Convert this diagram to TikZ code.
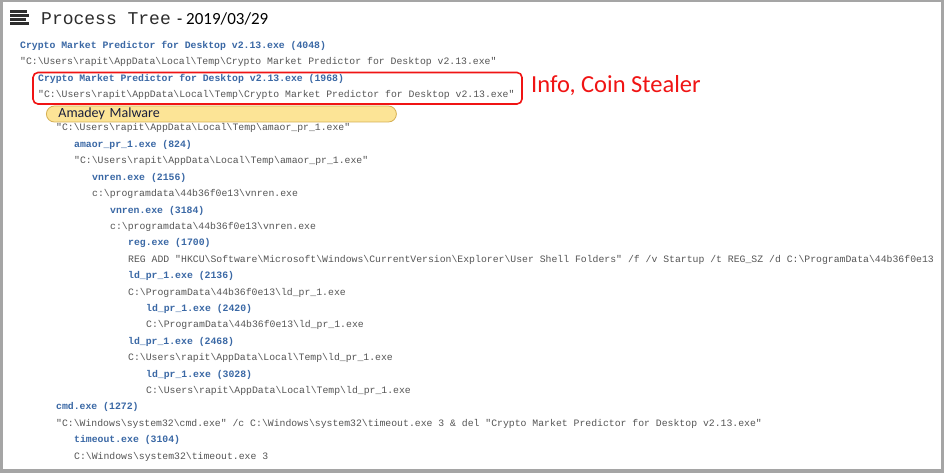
\documentclass[tikz,border=0pt]{standalone}
\usepackage{fontspec}
\setmainfont{Carlito}
\newfontfamily\monofnt{Liberation Mono}
\usepackage{tikz}
\usetikzlibrary{calc}

\definecolor{procblue}{RGB}{58,104,165}
\definecolor{cmdgray}{RGB}{85,85,85}
\definecolor{framegray}{RGB}{165,165,165}
\definecolor{icondark}{RGB}{45,45,45}
\definecolor{tagfill}{RGB}{252,228,150}
\definecolor{tagline}{RGB}{214,176,84}
\definecolor{alertred}{RGB}{240,20,20}

\newcommand{\bsl}{\textbackslash}

\begin{document}
\begin{tikzpicture}[x=1pt,y=-1pt,
		proc/.style={anchor=west,inner sep=0pt,text height=7pt,text depth=2pt,
			text=procblue,font=\monofnt\bfseries\fontsize{9.8}{11}\selectfont},
		cmdline/.style={anchor=west,inner sep=0pt,text height=7pt,text depth=2pt,
			text=cmdgray,font=\monofnt\fontsize{9.8}{11}\selectfont},
		tagbox/.style={draw=tagline,fill=tagfill,line width=0.8pt,rounded corners=8pt,
			anchor=west,minimum width=350pt,minimum height=16pt,inner xsep=12pt,inner ysep=0pt,
			text width=326pt,align=left,font=\fontsize{14}{16}\selectfont,text={rgb,255:red,25;green,30;blue,60}},
		markbox/.style={draw=alertred,line width=1.6pt,rounded corners=5pt}]
	
	% Frame
	\useasboundingbox (0,0) rectangle (944,473);
	\fill[framegray] (0,0) rectangle (944,473);
	\fill[white] (2.5,2.5) rectangle (940.5,469);
	
	% Header icon and title
	\foreach \y/\len in {10.3/16.5, 14.2/19, 18.1/16, 22/19}{
		\fill[icondark] (10,\y) rectangle ++(\len,2.9);
	}
	\node[anchor=west,inner sep=0pt,text=icondark,font=\monofnt\fontsize{18}{20}\selectfont] (title) at (41,19) {Process Tree};
	\node[anchor=west,inner sep=0pt,font=\fontsize{17}{19}\selectfont] (date) at (177,18.5) {- 2019/03/29};
	
	% Dropper
	\node[proc] (p4048) at (20,46) {Crypto Market Predictor for Desktop v2.13.exe (4048)};
	\node[cmdline] (c4048) at (20,62.4) {"C:\bsl Users\bsl rapit\bsl AppData\bsl Local\bsl Temp\bsl Crypto Market Predictor for Desktop v2.13.exe"};
	\node[proc] (p1968) at (38,78.8) {Crypto Market Predictor for Desktop v2.13.exe (1968)};
	\node[cmdline] (c1968) at (38,95.2) {"C:\bsl Users\bsl rapit\bsl AppData\bsl Local\bsl Temp\bsl Crypto Market Predictor for Desktop v2.13.exe"};
	
	% Highlight of the stealer
	\draw[markbox] (33,72.5) rectangle (522,104);
	\node[anchor=west,inner sep=0pt,text=alertred,font=\fontsize{24.5}{26}\selectfont] (stealer) at (531,86) {Info, Coin Stealer};
	
	% Amadey branch
	\node[tagbox] (amadey) at (46,114) {Amadey Malware};
	\node[cmdline] (c0amaor) at (56,128.5) {"C:\bsl Users\bsl rapit\bsl AppData\bsl Local\bsl Temp\bsl amaor\_pr\_1.exe"};
	\node[proc] (p824) at (74,145) {amaor\_pr\_1.exe (824)};
	\node[cmdline] (c824) at (74,161.4) {"C:\bsl Users\bsl rapit\bsl AppData\bsl Local\bsl Temp\bsl amaor\_pr\_1.exe"};
	\node[proc] (p2156) at (92,177.8) {vnren.exe (2156)};
	\node[cmdline] (c2156) at (92,194.2) {c:\bsl programdata\bsl 44b36f0e13\bsl vnren.exe};
	\node[proc] (p3184) at (110,210.6) {vnren.exe (3184)};
	\node[cmdline] (c3184) at (110,227) {c:\bsl programdata\bsl 44b36f0e13\bsl vnren.exe};
	\node[proc] (p1700) at (128,243.4) {reg.exe (1700)};
	\node[cmdline] (c1700) at (128,259.8) {REG ADD "HKCU\bsl Software\bsl Microsoft\bsl Windows\bsl CurrentVersion\bsl Explorer\bsl User Shell Folders" /f /v Startup /t REG\_SZ /d C:\bsl ProgramData\bsl 44b36f0e13};
	\node[proc] (p2136) at (128,276.2) {ld\_pr\_1.exe (2136)};
	\node[cmdline] (c2136) at (128,292.6) {C:\bsl ProgramData\bsl 44b36f0e13\bsl ld\_pr\_1.exe};
	\node[proc] (p2420) at (146,309) {ld\_pr\_1.exe (2420)};
	\node[cmdline] (c2420) at (146,325.4) {C:\bsl ProgramData\bsl 44b36f0e13\bsl ld\_pr\_1.exe};
	\node[proc] (p2468) at (128,341.8) {ld\_pr\_1.exe (2468)};
	\node[cmdline] (c2468) at (128,358.2) {C:\bsl Users\bsl rapit\bsl AppData\bsl Local\bsl Temp\bsl ld\_pr\_1.exe};
	\node[proc] (p3028) at (146,374.6) {ld\_pr\_1.exe (3028)};
	\node[cmdline] (c3028) at (146,391) {C:\bsl Users\bsl rapit\bsl AppData\bsl Local\bsl Temp\bsl ld\_pr\_1.exe};
	
	% Self delete
	\node[proc] (p1272) at (56,407.4) {cmd.exe (1272)};
	\node[cmdline] (c1272) at (56,423.8) {"C:\bsl Windows\bsl system32\bsl cmd.exe" /c C:\bsl Windows\bsl system32\bsl timeout.exe 3 \& del "Crypto Market Predictor for Desktop v2.13.exe"};
	\node[proc] (p3104) at (74,440.2) {timeout.exe (3104)};
	\node[cmdline] (c3104) at (74,456.6) {C:\bsl Windows\bsl system32\bsl timeout.exe 3};
	
\end{tikzpicture}
\end{document}
